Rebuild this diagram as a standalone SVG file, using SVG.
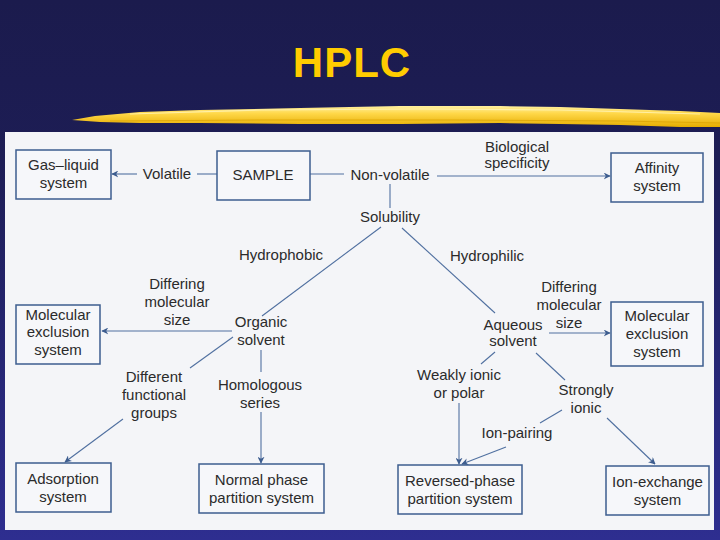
<svg xmlns="http://www.w3.org/2000/svg" width="720" height="540" viewBox="0 0 720 540">
  <style>
    .t { font-family: "Liberation Sans", Arial, Helvetica, sans-serif; font-size: 15px; fill: #2b2b2b; text-anchor: middle; }
    .box { fill: #f6f7fa; stroke: #3d5d8f; stroke-width: 1.5; }
    .ln { fill: none; stroke: #5070a0; stroke-width: 1.1; }
    .ar { fill: none; stroke: #5070a0; stroke-width: 1.1; marker-end: url(#ah); }
    .title { font-family: "Liberation Sans", Arial, Helvetica, sans-serif; font-size: 42px; font-weight: bold; fill: #ffcc00; text-anchor: middle; letter-spacing: 1px; }
  </style>
  <defs>
    <linearGradient id="bg" x1="0" y1="0" x2="0" y2="1">
      <stop offset="0" stop-color="#1b1b4d"/>
      <stop offset="0.3" stop-color="#1d1d55"/>
      <stop offset="1" stop-color="#2e2e90"/>
    </linearGradient>
    <linearGradient id="brush" x1="0" y1="0" x2="0" y2="1">
      <stop offset="0" stop-color="#fff0a0"/>
      <stop offset="0.35" stop-color="#ffd84a"/>
      <stop offset="1" stop-color="#e6ad00"/>
    </linearGradient>
    <marker id="ah" viewBox="0 0 10 10" refX="9" refY="5" markerWidth="7" markerHeight="7" markerUnits="userSpaceOnUse" orient="auto">
      <path d="M0,0 L10,5 L0,10 L3,5 Z" fill="#3d5d8f"/>
    </marker>
  </defs>

  <rect x="0" y="0" width="720" height="540" fill="url(#bg)"/>

  <text class="title" x="352" y="77">HPLC</text>

  <g id="brush-stroke">
    <path d="M72,120 L95,116 L140,112 L200,110 L300,108 L400,106 L500,106 L560,107 L620,109 L680,111 L720,113 L720,127 L680,127 L620,125 L560,124 L500,123 L400,124 L300,124 L200,123 L140,123 L100,122 Z" fill="url(#brush)"/>
    <path d="M130,114 L260,110 L420,109 L560,110 L700,114" fill="none" stroke="#fff4b8" stroke-width="1.2" opacity="0.8"/>
    <path d="M110,121 L260,120 L450,120 L620,121 L720,123" fill="none" stroke="#d9a000" stroke-width="1" opacity="0.7"/>
  </g>

  <rect x="5" y="132" width="709" height="398" fill="#f4f5f8"/>

  <g id="connectors">
    <line class="ar" x1="137" y1="174" x2="112" y2="174"/>
    <line class="ln" x1="197" y1="174" x2="217" y2="174"/>
    <line class="ln" x1="310" y1="174" x2="344" y2="174"/>
    <line class="ar" x1="437" y1="176" x2="610" y2="176"/>
    <line class="ln" x1="390" y1="184" x2="390" y2="208"/>
    <line class="ln" x1="381" y1="227" x2="262" y2="316"/>
    <line class="ln" x1="402" y1="228" x2="495" y2="313"/>
    <line class="ar" x1="232" y1="331" x2="102" y2="331"/>
    <line class="ln" x1="233" y1="337" x2="190" y2="368"/>
    <line class="ln" x1="261" y1="350" x2="261" y2="372"/>
    <line class="ar" x1="261" y1="412" x2="261" y2="463"/>
    <line class="ar" x1="123" y1="419" x2="65" y2="462"/>
    <line class="ar" x1="549" y1="333" x2="610" y2="333"/>
    <line class="ln" x1="495" y1="352" x2="481" y2="364"/>
    <line class="ln" x1="536" y1="353" x2="565" y2="380"/>
    <line class="ar" x1="459" y1="403" x2="459" y2="464"/>
    <line class="ln" x1="562" y1="410" x2="540" y2="423"/>
    <line class="ar" x1="506" y1="447" x2="462" y2="464"/>
    <line class="ar" x1="607" y1="418" x2="655" y2="464"/>
  </g>

  <g id="gas-liquid">
    <rect class="box" x="16" y="150" width="95" height="49"/>
    <text class="t" x="63.5" y="170">Gas–liquid</text>
    <text class="t" x="63.5" y="188">system</text>
  </g>
  <g id="volatile"><text class="t" x="167" y="179">Volatile</text></g>
  <g id="sample">
    <rect class="box" x="217" y="151" width="93" height="49"/>
    <text class="t" x="263" y="180">SAMPLE</text>
  </g>
  <g id="non-volatile"><text class="t" x="390" y="180">Non-volatile</text></g>
  <g id="biological">
    <text class="t" x="517" y="152">Biological</text>
    <text class="t" x="517" y="168">specificity</text>
  </g>
  <g id="affinity">
    <rect class="box" x="611" y="153" width="92" height="49"/>
    <text class="t" x="657" y="173">Affinity</text>
    <text class="t" x="657" y="191">system</text>
  </g>
  <g id="solubility"><text class="t" x="390" y="222">Solubility</text></g>
  <g id="hydrophobic"><text class="t" x="281" y="260">Hydrophobic</text></g>
  <g id="hydrophilic"><text class="t" x="487" y="261">Hydrophilic</text></g>
  <g id="diff-size-left">
    <text class="t" x="177" y="289">Differing</text>
    <text class="t" x="177" y="307">molecular</text>
    <text class="t" x="177" y="325">size</text>
  </g>
  <g id="organic">
    <text class="t" x="261" y="327">Organic</text>
    <text class="t" x="261" y="345">solvent</text>
  </g>
  <g id="molex-left">
    <rect class="box" x="16" y="305" width="84" height="59"/>
    <text class="t" x="58" y="320">Molecular</text>
    <text class="t" x="58" y="337">exclusion</text>
    <text class="t" x="58" y="355">system</text>
  </g>
  <g id="different-groups">
    <text class="t" x="154" y="382">Different</text>
    <text class="t" x="154" y="400">functional</text>
    <text class="t" x="154" y="418">groups</text>
  </g>
  <g id="homologous">
    <text class="t" x="260" y="390">Homologous</text>
    <text class="t" x="260" y="408">series</text>
  </g>
  <g id="adsorption">
    <rect class="box" x="16" y="463" width="95" height="49"/>
    <text class="t" x="63" y="484">Adsorption</text>
    <text class="t" x="63" y="502">system</text>
  </g>
  <g id="normal-phase">
    <rect class="box" x="199" y="464" width="125" height="49"/>
    <text class="t" x="261.5" y="485">Normal phase</text>
    <text class="t" x="261.5" y="503">partition system</text>
  </g>
  <g id="aqueous">
    <text class="t" x="513" y="330">Aqueous</text>
    <text class="t" x="513" y="346">solvent</text>
  </g>
  <g id="diff-size-right">
    <text class="t" x="569" y="292">Differing</text>
    <text class="t" x="569" y="310">molecular</text>
    <text class="t" x="569" y="328">size</text>
  </g>
  <g id="molex-right">
    <rect class="box" x="611" y="302" width="92" height="64"/>
    <text class="t" x="657" y="321">Molecular</text>
    <text class="t" x="657" y="339">exclusion</text>
    <text class="t" x="657" y="357">system</text>
  </g>
  <g id="weakly-ionic">
    <text class="t" x="459" y="380">Weakly ionic</text>
    <text class="t" x="459" y="398">or polar</text>
  </g>
  <g id="strongly-ionic">
    <text class="t" x="586" y="395">Strongly</text>
    <text class="t" x="586" y="413">ionic</text>
  </g>
  <g id="ion-pairing"><text class="t" x="517" y="438">Ion-pairing</text></g>
  <g id="reversed-phase">
    <rect class="box" x="398" y="465" width="124" height="49"/>
    <text class="t" x="460" y="486">Reversed-phase</text>
    <text class="t" x="460" y="504">partition system</text>
  </g>
  <g id="ion-exchange">
    <rect class="box" x="606" y="466" width="103" height="49"/>
    <text class="t" x="657.5" y="487">Ion-exchange</text>
    <text class="t" x="657.5" y="505">system</text>
  </g>
</svg>
